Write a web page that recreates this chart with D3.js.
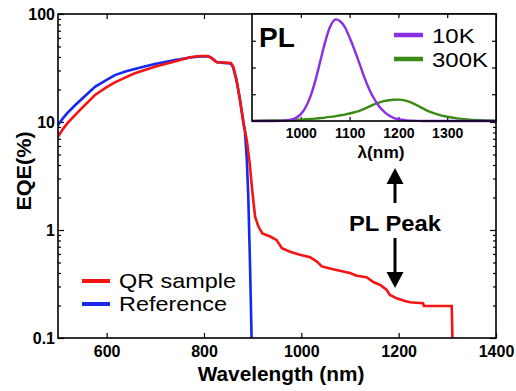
<!DOCTYPE html>
<html>
<head>
<meta charset="utf-8">
<script src="https://cdn.jsdelivr.net/npm/d3@7"></script>
<style>
  body { margin: 0; background: #fff; }
  svg { font-family: "Liberation Sans", Arial, sans-serif; }
  .frame { fill: none; stroke: #000; stroke-width: 1.6; }
  .tick line { stroke: #000; stroke-width: 1.2; }
  .domain { display: none; }
</style>
</head>
<body>
<script>
// main EQE data
var qrWl  = [500, 510, 520, 535, 550, 576, 600, 617, 640, 658, 680, 699, 720, 740, 751, 771, 792, 808, 816, 826, 840, 855, 860, 867, 874, 881, 888, 894, 899, 905, 912, 920, 936, 949, 960, 977, 997, 1018, 1032, 1042, 1059, 1079, 1100, 1114, 1134, 1148, 1162, 1175, 1182, 1196, 1213, 1223, 1250, 1252, 1309, 1312];
var qrEqe = [7.3, 8.6, 9.8, 11.6, 13.6, 17.8, 21, 23.3, 26, 28.3, 30.5, 32.5, 34.5, 36.3, 37.5, 39.7, 40.8, 40.8, 39, 35.7, 35.6, 35.2, 32.6, 24.5, 16, 9.7, 6.8, 4.1, 2.35, 1.33, 1.07, 0.93, 0.87, 0.81, 0.68, 0.63, 0.59, 0.56, 0.51, 0.46, 0.44, 0.42, 0.40, 0.377, 0.365, 0.33, 0.31, 0.28, 0.25, 0.233, 0.22, 0.214, 0.21, 0.198, 0.198, 0.05];
var refWl  = [500, 510, 520, 535, 550, 576, 600, 617, 640, 658, 680, 699, 720, 740, 751, 771, 792, 808, 816, 826, 840, 855, 860, 867, 874, 881, 884, 888, 891, 894.5, 898];
var refEqe = [9.4, 10.8, 12.2, 14.3, 16.5, 21.2, 24.5, 27.2, 29.5, 31, 32.8, 34.4, 36, 37.5, 38, 39.5, 40.5, 40.5, 39, 36, 35.3, 34.8, 32, 24, 16, 10, 8.4, 4.5, 2.03, 0.49, 0.09];

// inset PL data (normalised)
var plWl   = [900, 940, 960, 980, 990, 1000, 1010, 1020, 1030, 1040, 1050, 1060, 1072, 1080, 1090, 1100, 1110, 1120, 1130, 1140, 1150, 1160, 1170, 1180, 1190, 1200, 1215, 1230, 1245, 1260, 1280, 1300, 1320, 1340, 1370, 1400];
var pl10K  = [0, 0, 0.001, 0.012, 0.029, 0.064, 0.129, 0.233, 0.38, 0.56, 0.74, 0.88, 0.95, 0.935, 0.88, 0.78, 0.665, 0.54, 0.41, 0.30, 0.21, 0.14, 0.089, 0.053, 0.03, 0.016, 0.006, 0.002, 0.001, 0, 0, 0, 0, 0, 0, 0];
var pl300K = [0.001, 0.004, 0.006, 0.009, 0.011, 0.013, 0.016, 0.019, 0.022, 0.027, 0.032, 0.038, 0.046, 0.052, 0.06, 0.07, 0.082, 0.095, 0.113, 0.135, 0.155, 0.172, 0.185, 0.194, 0.199, 0.2, 0.19, 0.165, 0.13, 0.095, 0.062, 0.04, 0.025, 0.015, 0.007, 0.003];

var xTicks = [600, 800, 1000, 1200, 1400];
var yTicks = [0.1, 1, 10, 100];
var insetTicks = [1000, 1100, 1200, 1300];

var W = 516, H = 391;
var L = 58, R = 496, T = 14, B = 338;

var svg = d3.select('body').append('svg')
    .attr('width', W)
    .attr('height', H);

var x = d3.scaleLinear().domain([500, 1400]).range([L, R]);
var y = d3.scaleLog().domain([0.1, 100]).range([B, T]);

// text helper, the original lettering is a bit wide so stretch it a little
function label(txt, px, py, size, opts) {
  opts = opts || {};
  var sx = opts.sx || 1;
  return svg.append('text').text(txt)
      .attr('transform', 'translate(' + px + ',' + py + ')' + (opts.rot ? ' rotate(' + opts.rot + ')' : '') + ' scale(' + sx + ',1)')
      .attr('text-anchor', opts.anchor || 'start')
      .style('font-size', size + 'px')
      .style('font-weight', opts.bold ? 'bold' : 'normal');
}

// minor log ticks
var minor = [];
[0.1, 1, 10].forEach(function(d) { for (var k = 2; k <= 9; k++) minor.push(d * k); });

/* ============ main axes ============ */
svg.append('g').attr('transform', 'translate(' + L + ',0)')
    .call(d3.axisLeft(y).tickValues(yTicks).tickSize(-6).tickPadding(3).tickFormat(d3.format('~g')))
    .selectAll('text').style('font-size', '16px').style('font-weight', 'bold').attr('fill', '#000');
svg.append('g').attr('transform', 'translate(' + L + ',0)')
    .call(d3.axisLeft(y).tickValues(minor).tickSize(-3).tickFormat(''));
svg.append('g').attr('transform', 'translate(' + R + ',0)')
    .call(d3.axisRight(y).tickValues(yTicks).tickSize(-6).tickFormat(''));
svg.append('g').attr('transform', 'translate(' + R + ',0)')
    .call(d3.axisRight(y).tickValues(minor).tickSize(-3).tickFormat(''));

svg.append('g').attr('transform', 'translate(0,' + B + ')')
    .call(d3.axisBottom(x).tickValues(xTicks).tickSize(-5).tickPadding(8).tickFormat(d3.format('d')))
    .selectAll('text').style('font-size', '16px').style('font-weight', 'bold').attr('fill', '#000');
svg.append('g').attr('transform', 'translate(0,' + T + ')')
    .call(d3.axisTop(x).tickValues(xTicks).tickSize(-5).tickFormat(''));

// clip for data
svg.append('clipPath').attr('id', 'clip')
  .append('rect').attr('x', L).attr('y', T).attr('width', R - L).attr('height', B - T);

var line = d3.line().x(function(d) { return x(d[0]); }).y(function(d) { return y(d[1]); });
var plot = svg.append('g').attr('clip-path', 'url(#clip)');

plot.append('path')
    .datum(d3.zip(refWl, refEqe))
    .attr('d', line)
    .attr('fill', 'none').attr('stroke', '#1428f0').attr('stroke-width', 2.6);
plot.append('path')
    .datum(d3.zip(qrWl, qrEqe))
    .attr('d', line)
    .attr('fill', 'none').attr('stroke', '#f51414').attr('stroke-width', 2.6);

svg.append('rect').attr('class', 'frame')
    .attr('x', L).attr('y', T).attr('width', R - L).attr('height', B - T);

// axis titles
label('Wavelength (nm)', 281, 381, 20, {bold: true, anchor: 'middle', sx: 1.04});
label('EQE(%)', 31, 171, 20, {bold: true, anchor: 'middle', rot: -90, sx: 1.08});

// main legend
var legend = [['QR sample', '#f51414', 281], ['Reference', '#1428f0', 304]];
legend.forEach(function(l) {
  svg.append('line').attr('x1', 82).attr('x2', 110).attr('y1', l[2]).attr('y2', l[2])
      .attr('stroke', l[1]).attr('stroke-width', 4);
  label(l[0], 119, l[2] + 7, 20, {sx: 1.17});
});

// PL peak annotation
label('PL Peak', 395, 231, 22, {bold: true, anchor: 'middle', sx: 1.08});
svg.append('line').attr('x1', 395).attr('x2', 395).attr('y1', 203).attr('y2', 182)
    .attr('stroke', '#000').attr('stroke-width', 3);
svg.append('path').attr('d', 'M386.5,184 L395,168 L403.5,184 Z').attr('fill', '#000');
svg.append('line').attr('x1', 395).attr('x2', 395).attr('y1', 238).attr('y2', 274)
    .attr('stroke', '#000').attr('stroke-width', 3);
svg.append('path').attr('d', 'M386.5,272 L395,288 L403.5,272 Z').attr('fill', '#000');

/* ============ inset ============ */
var iL = 252, iR = 496, iT = 14, iB = 121;
var ix = d3.scaleLinear().domain([900, 1400]).range([iL, iR]);
var iy = d3.scaleLinear().domain([0, 1]).range([iB, iT]);

svg.append('rect').attr('x', iL).attr('y', iT).attr('width', iR - iL).attr('height', iB - iT)
    .attr('fill', '#fff');

svg.append('g').attr('transform', 'translate(0,' + iB + ')')
    .call(d3.axisBottom(ix).tickValues(insetTicks).tickSize(-4).tickPadding(7).tickFormat(d3.format('d')))
    .selectAll('text').style('font-size', '14px').style('font-weight', 'bold').attr('fill', '#000');
svg.append('g').attr('transform', 'translate(0,' + iT + ')')
    .call(d3.axisTop(ix).tickValues(insetTicks).tickSize(-4).tickFormat(''));
svg.append('g').attr('transform', 'translate(' + iL + ',0)')
    .call(d3.axisLeft(iy).tickValues([0.25, 0.5, 0.75]).tickSize(-4).tickFormat(''));
svg.append('g').attr('transform', 'translate(' + iR + ',0)')
    .call(d3.axisRight(iy).tickValues([0.25, 0.5, 0.75]).tickSize(-4).tickFormat(''));

var iline = d3.line().curve(d3.curveMonotoneX)
    .x(function(d) { return ix(d[0]); }).y(function(d) { return iy(d[1]); });

svg.append('path').datum(d3.zip(plWl, pl300K)).attr('d', iline)
    .attr('fill', 'none').attr('stroke', '#3a8a14').attr('stroke-width', 2.4);
svg.append('path').datum(d3.zip(plWl, pl10K)).attr('d', iline)
    .attr('fill', 'none').attr('stroke', '#8a2ee6').attr('stroke-width', 2.4);

svg.append('rect').attr('class', 'frame')
    .attr('x', iL).attr('y', iT).attr('width', iR - iL).attr('height', iB - iT);

label('λ(nm)', 381, 158, 16, {bold: true, anchor: 'middle', sx: 1.08});
label('PL', 259, 47, 28, {bold: true});

var ilegend = [['10K', '#8a2ee6', 35], ['300K', '#3a8a14', 59]];
ilegend.forEach(function(l) {
  svg.append('line').attr('x1', 394).attr('x2', 423).attr('y1', l[2]).attr('y2', l[2])
      .attr('stroke', l[1]).attr('stroke-width', 4.5);
  label(l[0], 432, l[2] + 7.5, 20.5, {sx: 1.17});
});
</script>
</body>
</html>
